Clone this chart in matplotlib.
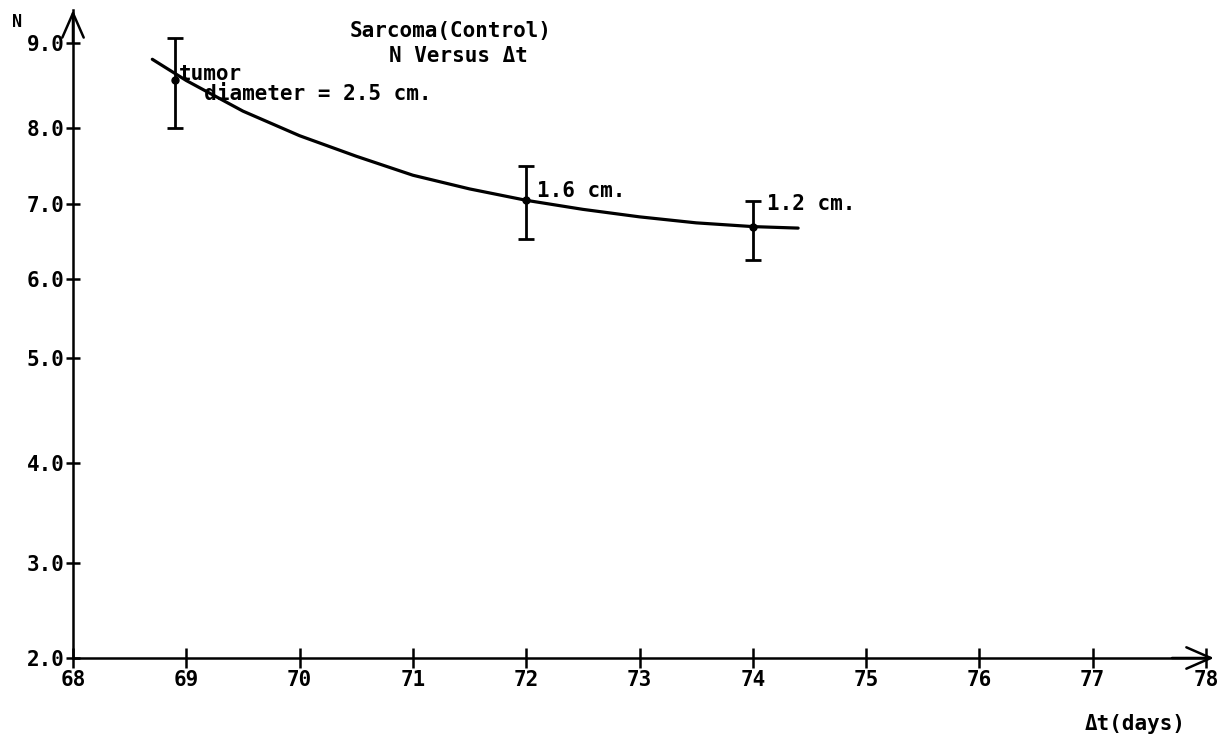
import numpy as np
import matplotlib
matplotlib.use("Agg")
import matplotlib.pyplot as plt
from matplotlib.scale import FuncScale

# measured points with error bars
pt_x = [68.9, 72.0, 74.0]
pt_y = [8.57, 7.05, 6.70]
err_lo = [8.00, 6.53, 6.26]
err_hi = [9.06, 7.50, 7.04]
pt_labels = ["tumor\n  diameter = 2.5 cm.", "1.6 cm.", "1.2 cm."]

# hand drawn fitted curve
curve_x = [68.7, 69.0, 69.5, 70.0, 70.5, 71.0, 71.5, 72.0, 72.5, 73.0, 73.5, 74.0, 74.4]
curve_y = [8.81, 8.56, 8.20, 7.90, 7.63, 7.38, 7.20, 7.05, 6.93, 6.83, 6.75, 6.70, 6.68]

x_ticks = [68, 69, 70, 71, 72, 73, 74, 75, 76, 77, 78]
y_ticks = [2.0, 3.0, 4.0, 5.0, 6.0, 7.0, 8.0, 9.0]

# the drawn N axis is not evenly spaced; map values to where they were drawn
scale_vals = [2.0, 3.0, 4.0, 5.0, 6.0, 7.0, 8.0, 9.0, 10.0]
scale_pos = [0, 95, 195, 300, 379, 454, 530, 615, 700]


def fwd(v):
    return np.interp(v, scale_vals, scale_pos)


def inv(p):
    return np.interp(p, scale_pos, scale_vals)


font = "DejaVu Sans Mono"
fs = 15
plt.rcParams["font.family"] = font
plt.rcParams["font.weight"] = "bold"

fig = plt.figure(figsize=(12.21, 7.40), dpi=100)
ax = fig.add_axes([73 / 1221, 1 - 658 / 740, 1133 / 1221, 648 / 740])
ax.set_yscale(FuncScale(ax, (fwd, inv)))
ax.set_xlim(68, 78)
ax.set_ylim(2.0, 9.39)

ax.plot(curve_x, curve_y, color="black", lw=2.3, solid_capstyle="round", solid_joinstyle="round")
ax.errorbar(pt_x, pt_y, yerr=[np.subtract(pt_y, err_lo), np.subtract(err_hi, pt_y)],
            fmt="o", color="black", ms=5, lw=2, capsize=6, capthick=2)

offsets = [(3, -3), (8, 7), (10, 16)]
for x, y, t, off in zip(pt_x, pt_y, pt_labels, offsets):
    ax.annotate(t, xy=(x, y), xytext=off, textcoords="offset points",
                fontsize=fs, fontweight="bold", va="center", ha="left",
                linespacing=1.0)

for s in ["top", "right"]:
    ax.spines[s].set_visible(False)
for s in ["left", "bottom"]:
    ax.spines[s].set_linewidth(1.8)

ax.set_xticks(x_ticks)
ax.set_xticklabels([str(v) for v in x_ticks])
ax.set_yticks(y_ticks)
ax.set_yticklabels(["%.1f" % v for v in y_ticks])
ax.tick_params(axis="x", direction="inout", length=14, width=1.8, pad=2, labelsize=fs)
ax.tick_params(axis="y", direction="inout", length=10, width=1.8, pad=1, labelsize=fs)
ax.yaxis.set_minor_locator(matplotlib.ticker.NullLocator())

# axis arrow heads
arr = dict(arrowstyle="->,head_length=0.8,head_width=0.35", lw=1.8, color="black",
           mutation_scale=22, shrinkA=0, shrinkB=0)
ax.annotate("", xy=(1.007, 0), xytext=(0.97, 0), xycoords="axes fraction", arrowprops=arr)
ax.annotate("", xy=(0, 1.0), xytext=(0, 0.95), xycoords="axes fraction", arrowprops=arr)

fig.text(350 / 1221, 1 - 37 / 740, "Sarcoma(Control)", fontsize=fs, fontweight="bold", va="baseline")
fig.text(389 / 1221, 1 - 62 / 740, "N Versus Δt", fontsize=fs, fontweight="bold", va="baseline")
fig.text(12 / 1221, 1 - 27 / 740, "N", fontsize=12, fontweight="bold", va="baseline")
fig.text(1085 / 1221, 1 - 724 / 740, "Δt(days)", fontsize=fs, fontweight="bold", va="center")

fig.savefig("out.png", dpi=100, facecolor="white")
